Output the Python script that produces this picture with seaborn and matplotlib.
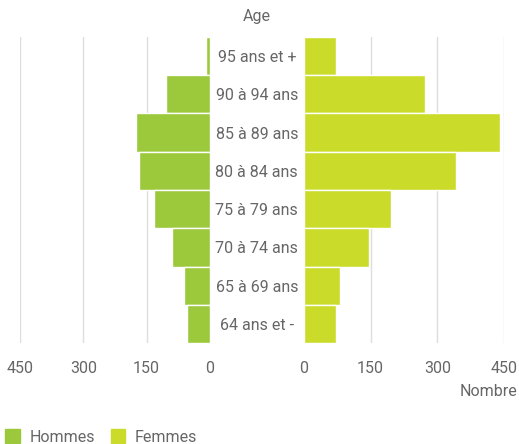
import matplotlib
matplotlib.use("Agg")
import matplotlib.pyplot as plt
import matplotlib.patches as mpatches
import seaborn as sns
import pandas as pd

ages = ["95 ans et +", "90 à 94 ans", "85 à 89 ans", "80 à 84 ans",
        "75 à 79 ans", "70 à 74 ans", "65 à 69 ans", "64 ans et -"]
hommes = [10, 104, 176, 168, 132, 89, 62, 54]
femmes = [72, 272, 442, 343, 195, 146, 80, 73]
xticks = [0, 150, 300, 450]

c_h = "#9bc93b"
c_f = "#cbdb2a"
txt = "#666666"
grid = "#dddddd"

sns.set_theme(style="white")
plt.rcParams['font.family'] = ['Roboto', 'DejaVu Sans']

df = pd.DataFrame({"Age": ages, "Hommes": hommes, "Femmes": femmes})

W, H = 519, 444
fs = 11.5
fig = plt.figure(figsize=(W / 100, H / 100), dpi=100)
bottom = 1 - 343 / H
height = 306 / H
axL = fig.add_axes([20 / W, bottom, 190 / W, height])
axR = fig.add_axes([304 / W, bottom, 200 / W, height])

sns.barplot(data=df, x="Hommes", y="Age", ax=axL, color=c_h, width=1.0,
            edgecolor="white", linewidth=1, saturation=1, zorder=3)
sns.barplot(data=df, x="Femmes", y="Age", ax=axR, color=c_f, width=1.0,
            edgecolor="white", linewidth=1, saturation=1, zorder=3)

axL.set_xlim(450, 0)
axR.set_xlim(0, 450)
for ax in (axL, axR):
    ax.set_ylim(7.5, -0.5)
    ax.set_xticks(xticks)
    ax.set_xticklabels([str(t) for t in xticks])
    ax.tick_params(axis='x', length=0, pad=13, labelsize=fs, labelcolor=txt)
    ax.set_xlabel("")
    ax.set_ylabel("")
    for s in ax.spines.values():
        s.set_visible(False)
    ax.xaxis.grid(True, color=grid, linewidth=1, zorder=0)
    ax.yaxis.grid(False)
    ax.set_axisbelow(True)
    ax.patch.set_alpha(0)

axL.set_yticks([])
axR.tick_params(axis='y', length=0, pad=34, labelsize=fs, labelcolor=txt)
for lab in axR.get_yticklabels():
    lab.set_ha("center")

fig.text(257 / W, 1 - 17 / H, "Age", ha="center", va="center", fontsize=fs, color=txt)
fig.text(517 / W, 1 - 391 / H, "Nombre", ha="right", va="center", fontsize=fs, color=txt)

handles = [mpatches.Patch(color=c_h, label="Hommes"),
           mpatches.Patch(color=c_f, label="Femmes")]
leg = fig.legend(handles=handles, loc="lower left", bbox_to_anchor=(2 / W, -4 / H),
                 ncol=2, frameon=False, fontsize=fs, handlelength=0.9, handleheight=1.0,
                 handletextpad=0.6, columnspacing=1.0, borderaxespad=0, borderpad=0.2)
for t in leg.get_texts():
    t.set_color(txt)

fig.savefig("out.png", dpi=100)
